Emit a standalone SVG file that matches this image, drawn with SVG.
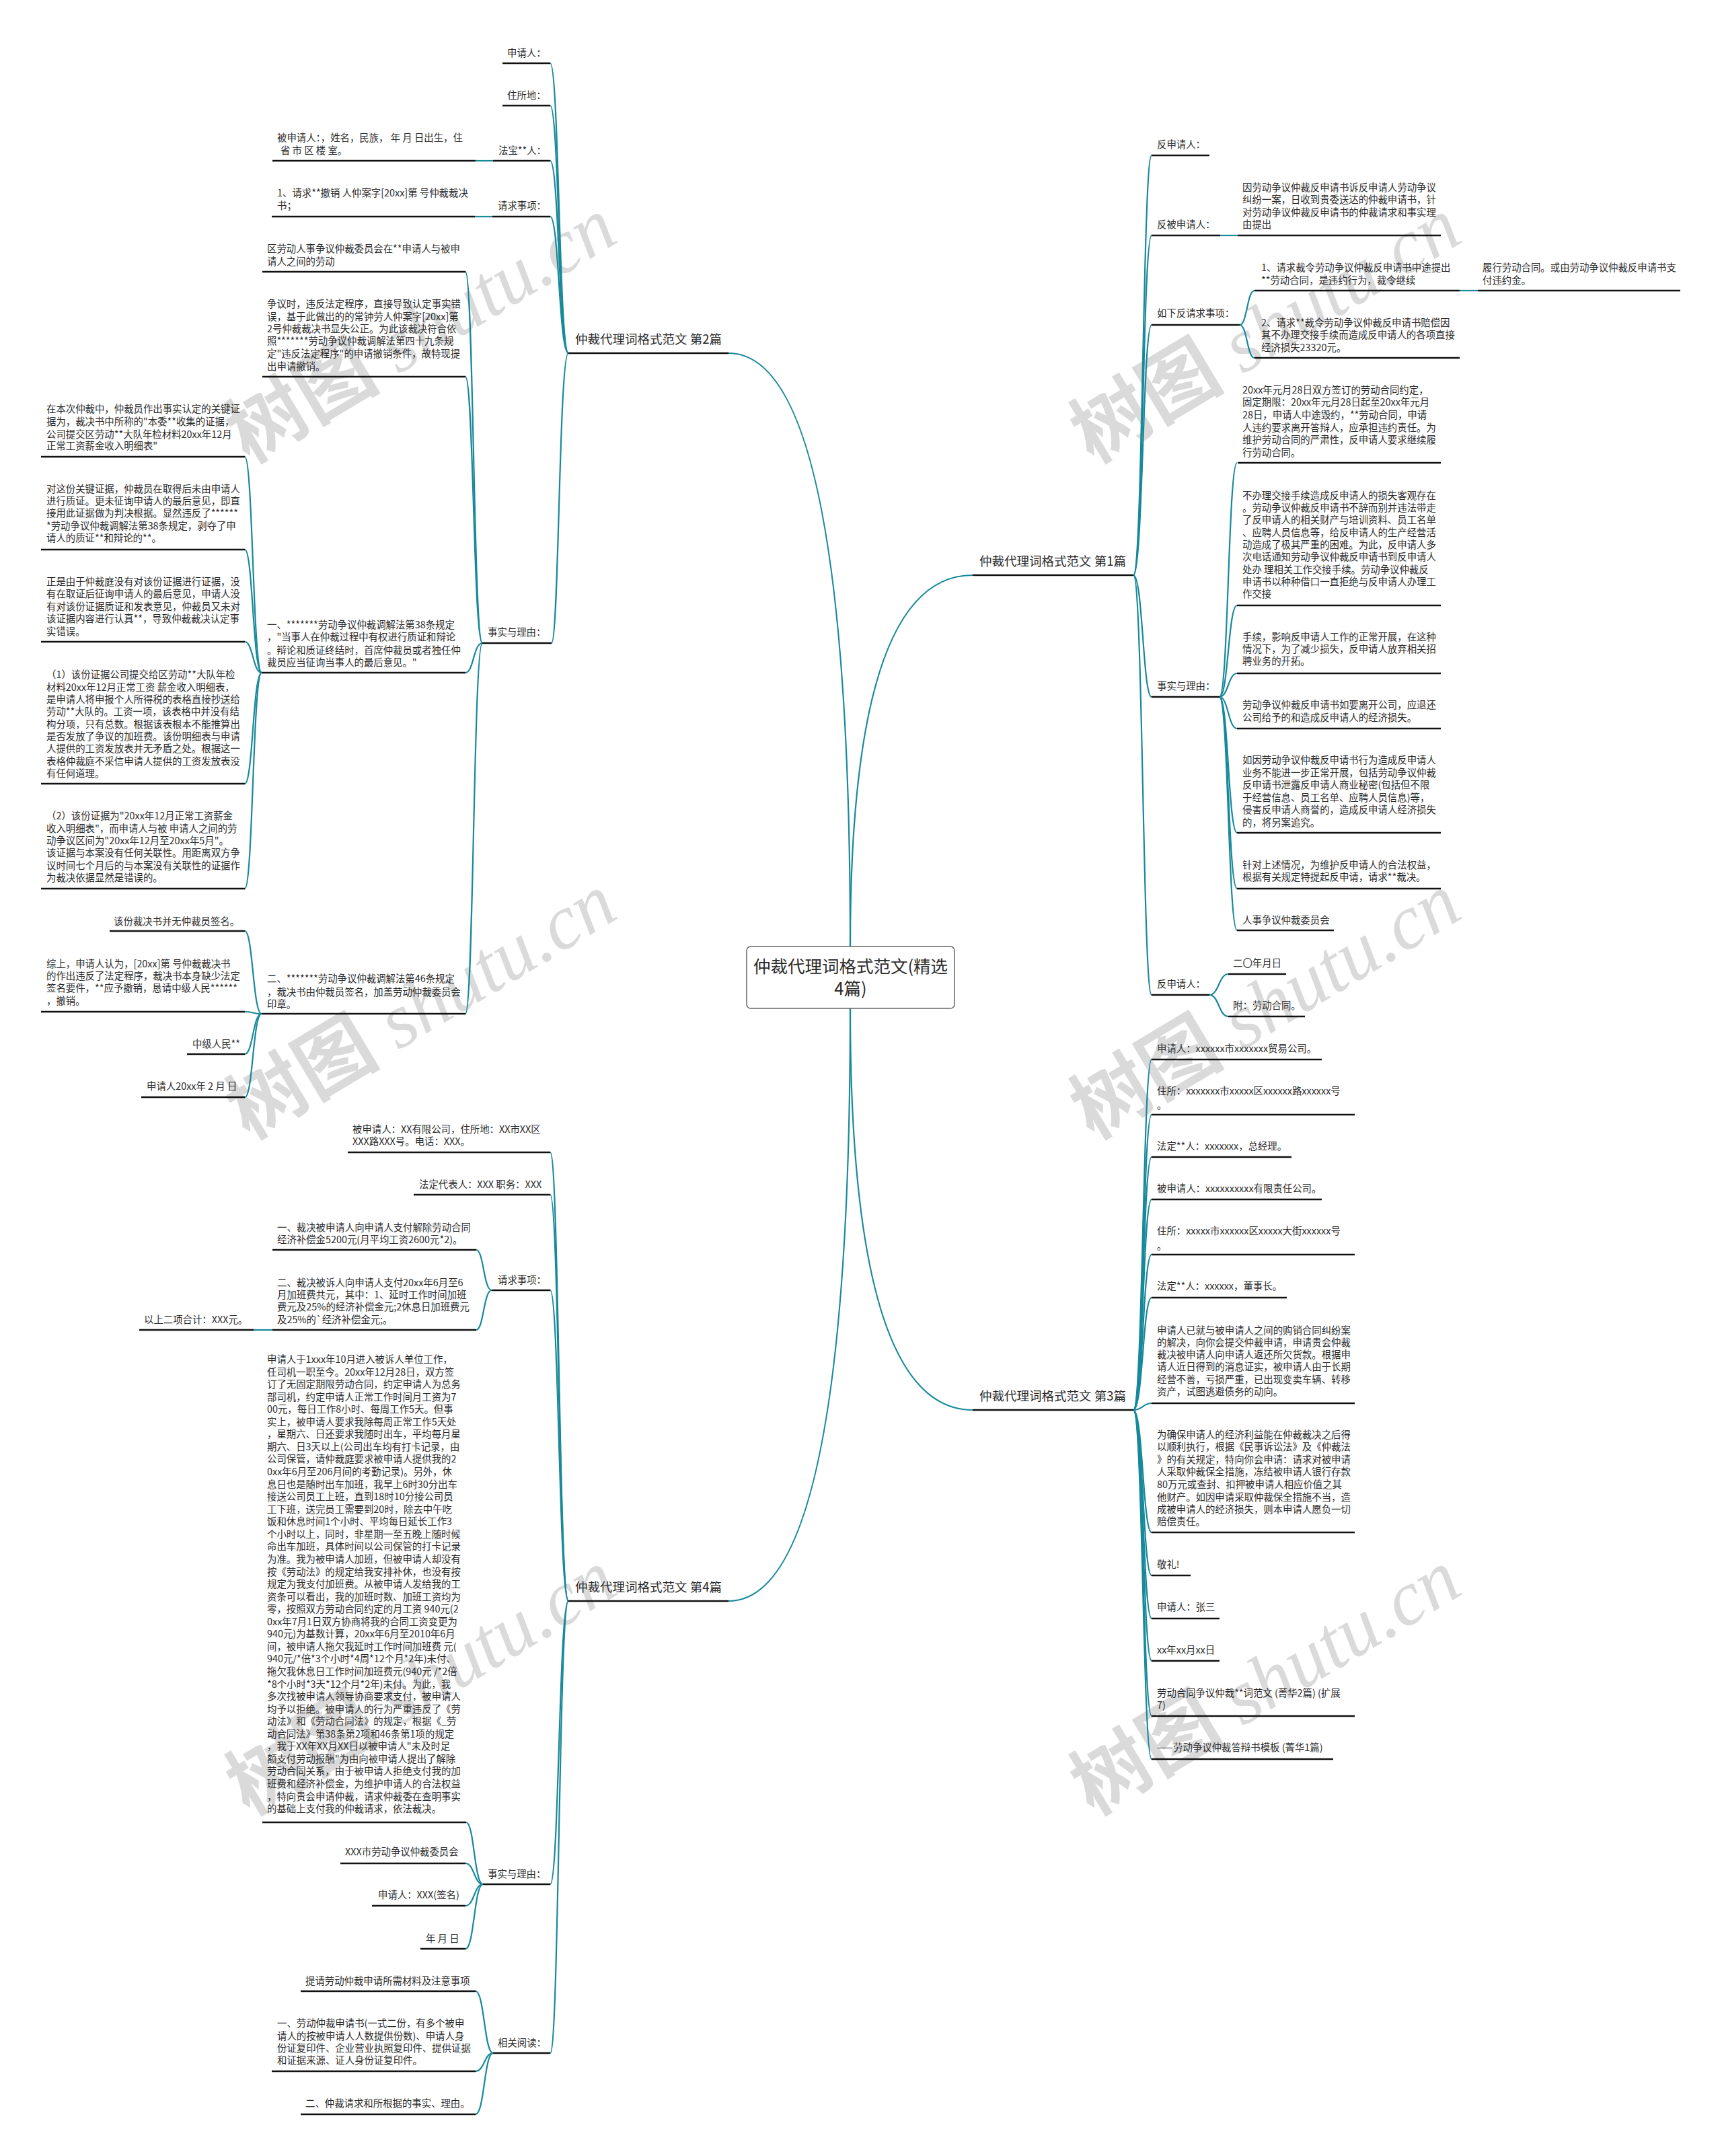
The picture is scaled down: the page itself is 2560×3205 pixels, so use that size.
<svg xmlns="http://www.w3.org/2000/svg" width="2560" height="3205" viewBox="0 0 2560 3205">
<style>
.t{font-family:"Noto Sans CJK SC","Liberation Sans",sans-serif;font-size:14.4px;fill:#2b2b2b}
.bl{font-family:"Noto Sans CJK SC","Liberation Sans",sans-serif;font-size:18.5px;fill:#2b2b2b}
.ct{font-family:"Noto Sans CJK SC","Liberation Sans",sans-serif;font-size:25.5px;fill:#2b2b2b}
.ul{stroke:#111;stroke-width:2.6}
.cn{fill:none;stroke:#18899b;stroke-width:2.2}
.wm{fill:#dadada;font-size:115px}
.wc{font-family:"Noto Sans CJK SC",sans-serif;font-weight:bold}
.ws{font-family:"Liberation Serif",serif;font-style:italic}
</style>
<rect width="2560" height="3205" fill="#fff"/>
<g id="watermark" class="wm">
<text transform="translate(370,690) rotate(-31)"><tspan class="wc">树图</tspan><tspan class="ws"> shutu.cn</tspan></text>
<text transform="translate(370,1695) rotate(-31)"><tspan class="wc">树图</tspan><tspan class="ws"> shutu.cn</tspan></text>
<text transform="translate(370,2700) rotate(-31)"><tspan class="wc">树图</tspan><tspan class="ws"> shutu.cn</tspan></text>
<text transform="translate(1625,690) rotate(-31)"><tspan class="wc">树图</tspan><tspan class="ws"> shutu.cn</tspan></text>
<text transform="translate(1625,1695) rotate(-31)"><tspan class="wc">树图</tspan><tspan class="ws"> shutu.cn</tspan></text>
<text transform="translate(1625,2700) rotate(-31)"><tspan class="wc">树图</tspan><tspan class="ws"> shutu.cn</tspan></text>
</g>
<g id="connectors" class="cn">
<path d="M1264,1407 Q1264,525 1083,525"/>
<path d="M1264,1407 Q1264,855 1446,855"/>
<path d="M1264,1499 Q1264,2380 1083,2380"/>
<path d="M1264,1499 Q1264,2096 1446,2096"/>
<path d="M845,525 C831,525 831,94 818,94"/>
<path d="M845,525 C831,525 831,157 818,157"/>
<path d="M845,525 C831,525 831,239 818,239"/>
<path d="M845,525 C831,525 831,322 818,322"/>
<path d="M845,525 C831,525 831,956 820,956"/>
<path d="M733,239 L707,239"/>
<path d="M732,322 L706,322"/>
<path d="M717,956 C704,956 704,404 692,404"/>
<path d="M717,956 C704,956 704,560 692,560"/>
<path d="M717,956 C704,956 704,1000 692,1000"/>
<path d="M717,956 C704,956 704,1507 692,1507"/>
<path d="M389,1000 C376,1000 376,679 364,679"/>
<path d="M389,1000 C376,1000 376,817 364,817"/>
<path d="M389,1000 C376,1000 376,954 364,954"/>
<path d="M389,1000 C376,1000 376,1165 364,1165"/>
<path d="M389,1000 C376,1000 376,1321 364,1321"/>
<path d="M389,1507 C376,1507 376,1384 364,1384"/>
<path d="M389,1507 C376,1507 376,1504 364,1504"/>
<path d="M389,1507 C376,1507 376,1567 364,1567"/>
<path d="M389,1507 C376,1507 376,1631 364,1631"/>
<path d="M845,2380 C831,2380 831,1713 818,1713"/>
<path d="M845,2380 C831,2380 831,1776 818,1776"/>
<path d="M845,2380 C831,2380 831,1918 818,1918"/>
<path d="M845,2380 C831,2380 831,2801 818,2801"/>
<path d="M845,2380 C831,2380 831,3052 818,3052"/>
<path d="M731,1918 C719,1918 719,1858 708,1858"/>
<path d="M731,1918 C719,1918 719,1977 708,1977"/>
<path d="M405,1977 L377,1977"/>
<path d="M718,2801 C705,2801 705,2709 693,2709"/>
<path d="M718,2801 C705,2801 705,2770 692,2770"/>
<path d="M718,2801 C705,2801 705,2833 692,2833"/>
<path d="M718,2801 C705,2801 705,2897 692,2897"/>
<path d="M733,3052 C720,3052 720,2960 707,2960"/>
<path d="M733,3052 C720,3052 720,3079 707,3079"/>
<path d="M733,3052 C720,3052 720,3143 707,3143"/>
<path d="M1685,855 C1699,855 1699,231 1712,231"/>
<path d="M1685,855 C1699,855 1699,350 1712,350"/>
<path d="M1685,855 C1699,855 1699,483 1712,483"/>
<path d="M1685,855 C1699,855 1699,1036 1712,1036"/>
<path d="M1685,855 C1699,855 1699,1479 1712,1479"/>
<path d="M1814,350 L1840,350"/>
<path d="M1843,483 C1854,483 1854,432 1865,432"/>
<path d="M1843,483 C1854,483 1854,532 1865,532"/>
<path d="M2170,432 L2197,432"/>
<path d="M1813,1036 C1826,1036 1826,688 1839,688"/>
<path d="M1813,1036 C1826,1036 1826,900 1839,900"/>
<path d="M1813,1036 C1826,1036 1826,1001 1839,1001"/>
<path d="M1813,1036 C1826,1036 1826,1083 1839,1083"/>
<path d="M1813,1036 C1826,1036 1826,1238 1839,1238"/>
<path d="M1813,1036 C1826,1036 1826,1321 1839,1321"/>
<path d="M1813,1036 C1826,1036 1826,1383 1839,1383"/>
<path d="M1798,1479 C1812,1479 1812,1448 1826,1448"/>
<path d="M1798,1479 C1812,1479 1812,1511 1826,1511"/>
<path d="M1685,2096 C1699,2096 1699,1575 1712,1575"/>
<path d="M1685,2096 C1699,2096 1699,1657 1712,1657"/>
<path d="M1685,2096 C1699,2096 1699,1720 1712,1720"/>
<path d="M1685,2096 C1699,2096 1699,1783 1712,1783"/>
<path d="M1685,2096 C1699,2096 1699,1865 1712,1865"/>
<path d="M1685,2096 C1699,2096 1699,1929 1712,1929"/>
<path d="M1685,2096 C1699,2096 1699,2086 1712,2086"/>
<path d="M1685,2096 C1699,2096 1699,2278 1712,2278"/>
<path d="M1685,2096 C1699,2096 1699,2342 1712,2342"/>
<path d="M1685,2096 C1699,2096 1699,2406 1712,2406"/>
<path d="M1685,2096 C1699,2096 1699,2469 1712,2469"/>
<path d="M1685,2096 C1699,2096 1699,2551 1712,2551"/>
<path d="M1685,2096 C1699,2096 1699,2615 1712,2615"/>
</g>
<g id="center"><rect x="1110" y="1407" width="309" height="92" rx="6" fill="#fff" stroke="#666" stroke-width="1.5"/><text class="ct" x="1264.5" y="1446" text-anchor="middle">仲裁代理词格式范文(精选</text><text class="ct" x="1264.5" y="1479" text-anchor="middle">4篇)</text></g>

<g id="b2"><text class="bl" x="855" y="511">仲裁代理词格式范文 第2篇</text><line class="ul" x1="845" y1="525" x2="1083" y2="525"/></g>
<g id="b2c1"><text class="t" x="754" y="84">申请人：</text><line class="ul" x1="747" y1="94" x2="818" y2="94"/></g>
<g id="b2c2"><text class="t" x="754" y="147">住所地：</text><line class="ul" x1="747" y1="157" x2="818" y2="157"/></g>
<g id="b2c3"><text class="t" x="741" y="229">法宝**人：</text><line class="ul" x1="733" y1="239" x2="818" y2="239"/></g>
<g id="b2c3a"><text class="t"><tspan x="412" y="210">被申请人：，姓名，民族， 年 月 日出生，住</tspan><tspan x="417" y="229">省 市 区 楼 室。</tspan></text><line class="ul" x1="405" y1="239" x2="707" y2="239"/></g>
<g id="b2c4"><text class="t" x="740" y="311">请求事项：</text><line class="ul" x1="732" y1="322" x2="818" y2="322"/></g>
<g id="b2c4a"><text class="t"><tspan x="412" y="292">1、请求**撤销 人仲案字[20xx]第 号仲裁裁决</tspan><tspan x="412" y="311">书；</tspan></text><line class="ul" x1="404" y1="322" x2="706" y2="322"/></g>
<g id="b2c5"><text class="t" x="725" y="945">事实与理由：</text><line class="ul" x1="717" y1="956" x2="820" y2="956"/></g>
<g id="b2c5a"><text class="t"><tspan x="397" y="375">区劳动人事争议仲裁委员会在**申请人与被申</tspan><tspan x="397" y="394">请人之间的劳动</tspan></text><line class="ul" x1="390" y1="404" x2="692" y2="404"/></g>
<g id="b2c5b"><text class="t"><tspan x="397" y="457">争议时，违反法定程序，直接导致认定事实错</tspan><tspan x="397" y="476">误，基于此做出的的常钟劳人仲案字[20xx]第</tspan><tspan x="397" y="494">2号仲裁裁决书显失公正。为此该裁决符合依</tspan><tspan x="397" y="512">照*******劳动争议仲裁调解法第四十九条规</tspan><tspan x="397" y="531">定"违反法定程序"的申请撤销条件，故特现提</tspan><tspan x="397" y="550">出申请撤销。</tspan></text><line class="ul" x1="390" y1="560" x2="692" y2="560"/></g>
<g id="b2c5c"><text class="t"><tspan x="397" y="934">一、*******劳动争议仲裁调解法第38条规定</tspan><tspan x="397" y="952">，"当事人在仲裁过程中有权进行质证和辩论</tspan><tspan x="397" y="972">。辩论和质证终结时，首席仲裁员或者独任仲</tspan><tspan x="397" y="990">裁员应当征询当事人的最后意见。"</tspan></text><line class="ul" x1="389" y1="1000" x2="692" y2="1000"/></g>
<g id="b2c5c1"><text class="t"><tspan x="69" y="613">在本次仲裁中，仲裁员作出事实认定的关键证</tspan><tspan x="69" y="632">据为，裁决书中所称的"本委**收集的证据，</tspan><tspan x="69" y="651">公司提交区劳动**大队年检材料20xx年12月</tspan><tspan x="69" y="668">正常工资薪金收入明细表"</tspan></text><line class="ul" x1="61" y1="679" x2="364" y2="679"/></g>
<g id="b2c5c2"><text class="t"><tspan x="69" y="732">对这份关键证据，仲裁员在取得后未由申请人</tspan><tspan x="69" y="750">进行质证。更未征询申请人的最后意见，即直</tspan><tspan x="69" y="768">接用此证据做为判决根据。显然违反了******</tspan><tspan x="69" y="787">*劳动争议仲裁调解法第38条规定，剥夺了申</tspan><tspan x="69" y="805">请人的质证**和辩论的**。</tspan></text><line class="ul" x1="61" y1="817" x2="364" y2="817"/></g>
<g id="b2c5c3"><text class="t"><tspan x="69" y="870">正是由于仲裁庭没有对该份证据进行证据，没</tspan><tspan x="69" y="888">有在取证后征询申请人的最后意见，申请人没</tspan><tspan x="69" y="907">有对该份证据质证和发表意见，仲裁员又未对</tspan><tspan x="69" y="925">该证据内容进行认真**，导致仲裁裁决认定事</tspan><tspan x="69" y="944">实错误。</tspan></text><line class="ul" x1="61" y1="954" x2="364" y2="954"/></g>
<g id="b2c5c4"><text class="t"><tspan x="69" y="1008">（1）该份证据公司提交给区劳动**大队年检</tspan><tspan x="69" y="1027">材料20xx年12月正常工资 薪金收入明细表，</tspan><tspan x="69" y="1045">是申请人将申报个人所得税的表格直接抄送给</tspan><tspan x="69" y="1063">劳动**大队的。工资一项，该表格中并没有结</tspan><tspan x="69" y="1082">构分项，只有总数。根据该表根本不能推算出</tspan><tspan x="69" y="1100">是否发放了争议的加班费。该份明细表与申请</tspan><tspan x="69" y="1118">人提供的工资发放表并无矛盾之处。根据这一</tspan><tspan x="69" y="1137">表格仲裁庭不采信申请人提供的工资发放表没</tspan><tspan x="69" y="1155">有任何道理。</tspan></text><line class="ul" x1="61" y1="1165" x2="364" y2="1165"/></g>
<g id="b2c5c5"><text class="t"><tspan x="69" y="1218">（2）该份证据为"20xx年12月正常工资薪金</tspan><tspan x="69" y="1237">收入明细表"，而申请人与被 申请人之间的劳</tspan><tspan x="69" y="1255">动争议区间为"20xx年12月至20xx年5月"。</tspan><tspan x="69" y="1273">该证据与本案没有任何关联性。用距离双方争</tspan><tspan x="69" y="1292">议时间七个月后的与本案没有关联性的证据作</tspan><tspan x="69" y="1310">为裁决依据显然是错误的。</tspan></text><line class="ul" x1="61" y1="1321" x2="364" y2="1321"/></g>
<g id="b2c5d"><text class="t"><tspan x="397" y="1460">二、*******劳动争议仲裁调解法第46条规定</tspan><tspan x="397" y="1480">，裁决书由仲裁员签名，加盖劳动仲裁委员会</tspan><tspan x="397" y="1498">印章。</tspan></text><line class="ul" x1="389" y1="1507" x2="692" y2="1507"/></g>
<g id="b2c5d1"><text class="t" x="169" y="1375">该份裁决书并无仲裁员签名。</text><line class="ul" x1="163" y1="1384" x2="364" y2="1384"/></g>
<g id="b2c5d2"><text class="t"><tspan x="69" y="1438">综上，申请人认为，[20xx]第 号仲裁裁决书</tspan><tspan x="69" y="1456">的作出违反了法定程序，裁决书本身缺少法定</tspan><tspan x="69" y="1474">签名要件，**应予撤销，恳请中级人民******</tspan><tspan x="69" y="1493">，撤销。</tspan></text><line class="ul" x1="61" y1="1504" x2="364" y2="1504"/></g>
<g id="b2c5d3"><text class="t" x="286" y="1557">中级人民**</text><line class="ul" x1="278" y1="1567" x2="364" y2="1567"/></g>
<g id="b2c5d4"><text class="t" x="218" y="1620">申请人20xx年 2 月 日</text><line class="ul" x1="210" y1="1631" x2="364" y2="1631"/></g>

<g id="b4"><text class="bl" x="855" y="2366">仲裁代理词格式范文 第4篇</text><line class="ul" x1="845" y1="2380" x2="1083" y2="2380"/></g>
<g id="b4c1"><text class="t"><tspan x="524" y="1684">被申请人：XX有限公司，住所地：XX市XX区</tspan><tspan x="524" y="1702">XXX路XXX号。电话：XXX。</tspan></text><line class="ul" x1="517" y1="1713" x2="818" y2="1713"/></g>
<g id="b4c2"><text class="t" x="623" y="1766">法定代表人：XXX 职务：XXX</text><line class="ul" x1="615" y1="1776" x2="818" y2="1776"/></g>
<g id="b4c3"><text class="t" x="740" y="1908">请求事项：</text><line class="ul" x1="731" y1="1918" x2="818" y2="1918"/></g>
<g id="b4c3a"><text class="t"><tspan x="412" y="1830">一、裁决被申请人向申请人支付解除劳动合同</tspan><tspan x="412" y="1848">经济补偿金5200元(月平均工资2600元*2)。</tspan></text><line class="ul" x1="405" y1="1858" x2="708" y2="1858"/></g>
<g id="b4c3b"><text class="t"><tspan x="412" y="1912">二、裁决被诉人向申请人支付20xx年6月至6</tspan><tspan x="412" y="1930">月加班费共元，其中：1、延时工作时间加班</tspan><tspan x="412" y="1948">费元及25%的经济补偿金元;2休息日加班费元</tspan><tspan x="412" y="1967">及25%的`经济补偿金元;。</tspan></text><line class="ul" x1="405" y1="1977" x2="708" y2="1977"/></g>
<g id="b4c3b1"><text class="t" x="214" y="1967">以上二项合计：XXX元。</text><line class="ul" x1="207" y1="1977" x2="377" y2="1977"/></g>
<g id="b4c4"><text class="t" x="725" y="2791">事实与理由：</text><line class="ul" x1="718" y1="2801" x2="818" y2="2801"/></g>
<g id="b4c4a"><text class="t"><tspan x="397" y="2026">申请人于1xxx年10月进入被诉人单位工作，</tspan><tspan x="397" dy="18.56">任司机一职至今。20xx年12月28日，双方签</tspan><tspan x="397" dy="18.56">订了无固定期限劳动合同，约定申请人为总务</tspan><tspan x="397" dy="18.56">部司机，约定申请人正常工作时间月工资为7</tspan><tspan x="397" dy="18.56">00元，每日工作8小时、每周工作5天。但事</tspan><tspan x="397" dy="18.56">实上，被申请人要求我除每周正常工作5天处</tspan><tspan x="397" dy="18.56">，星期六、日还要求我随时出车，平均每月星</tspan><tspan x="397" dy="18.56">期六、日3天以上(公司出车均有打卡记录，由</tspan><tspan x="397" dy="18.56">公司保管，请仲裁庭要求被申请人提供我的2</tspan><tspan x="397" dy="18.56">0xx年6月至206月间的考勤记录)。另外，休</tspan><tspan x="397" dy="18.56">息日也是随时出车加班，我早上6时30分出车</tspan><tspan x="397" dy="18.56">接送公司员工上班，直到18时10分接公司员</tspan><tspan x="397" dy="18.56">工下班，送完员工需要到20时，除去中午吃</tspan><tspan x="397" dy="18.56">饭和休息时间1个小时、平均每日延长工作3</tspan><tspan x="397" dy="18.56">个小时以上，同时，非星期一至五晚上随时候</tspan><tspan x="397" dy="18.56">命出车加班，具体时间以公司保管的打卡记录</tspan><tspan x="397" dy="18.56">为准。我为被申请人加班，但被申请人却没有</tspan><tspan x="397" dy="18.56">按《劳动法》的规定给我安排补休，也没有按</tspan><tspan x="397" dy="18.56">规定为我支付加班费。从被申请人发给我的工</tspan><tspan x="397" dy="18.56">资条可以看出，我的加班时数、加班工资均为</tspan><tspan x="397" dy="18.56">零，按照双方劳动合同约定的月工资 940元(2</tspan><tspan x="397" dy="18.56">0xx年7月1日双方协商将我的合同工资变更为</tspan><tspan x="397" dy="18.56">940元)为基数计算，20xx年6月至2010年6月</tspan><tspan x="397" dy="18.56">间，被申请人拖欠我延时工作时间加班费 元(</tspan><tspan x="397" dy="18.56">940元/*倍*3个小时*4周*12个月*2年)未付、</tspan><tspan x="397" dy="18.56">拖欠我休息日工作时间加班费元(940元 /*2倍</tspan><tspan x="397" dy="18.56">*8个小时*3天*12个月*2年)未付。为此，我</tspan><tspan x="397" dy="18.56">多次找被申请人领导协商要求支付，被申请人</tspan><tspan x="397" dy="18.56">均予以拒绝。被申请人的行为严重违反了《劳</tspan><tspan x="397" dy="18.56">动法》和《劳动合同法》的规定，根据《_劳</tspan><tspan x="397" dy="18.56">动合同法》第38条第2项和46条第1项的规定</tspan><tspan x="397" dy="18.56">，我于XX年XX月XX日以被申请人"未及时足</tspan><tspan x="397" dy="18.56">额支付劳动报酬"为由向被申请人提出了解除</tspan><tspan x="397" dy="18.56">劳动合同关系，由于被申请人拒绝支付我的加</tspan><tspan x="397" dy="18.56">班费和经济补偿金，为维护申请人的合法权益</tspan><tspan x="397" dy="18.56">，特向贵会申请仲裁，请求仲裁委在查明事实</tspan><tspan x="397" dy="18.56">的基础上支付我的仲裁请求，依法裁决。</tspan></text><line class="ul" x1="390" y1="2709" x2="693" y2="2709"/></g>
<g id="b4c4b"><text class="t" x="513" y="2758">XXX市劳动争议仲裁委员会</text><line class="ul" x1="506" y1="2770" x2="692" y2="2770"/></g>
<g id="b4c4c"><text class="t" x="562" y="2822">申请人：XXX(签名)</text><line class="ul" x1="553" y1="2833" x2="692" y2="2833"/></g>
<g id="b4c4d"><text class="t" x="633" y="2887">年 月 日</text><line class="ul" x1="625" y1="2897" x2="692" y2="2897"/></g>
<g id="b4c5"><text class="t" x="740" y="3042">相关阅读：</text><line class="ul" x1="733" y1="3052" x2="818" y2="3052"/></g>
<g id="b4c5a"><text class="t" x="454" y="2950">提请劳动仲裁申请所需材料及注意事项</text><line class="ul" x1="447" y1="2960" x2="707" y2="2960"/></g>
<g id="b4c5b"><text class="t"><tspan x="412" y="3013">一、劳动仲裁申请书(一式二份，有多个被申</tspan><tspan x="412" y="3032">请人的按被申请人人数提供份数)、申请人身</tspan><tspan x="412" y="3050">份证复印件、企业营业执照复印件、提供证据</tspan><tspan x="412" y="3068">和证据来源、证人身份证复印件。</tspan></text><line class="ul" x1="404" y1="3079" x2="707" y2="3079"/></g>
<g id="b4c5c"><text class="t" x="454" y="3132">二、仲裁请求和所根据的事实、理由。</text><line class="ul" x1="447" y1="3143" x2="707" y2="3143"/></g>

<g id="b1"><text class="bl" x="1456" y="841">仲裁代理词格式范文 第1篇</text><line class="ul" x1="1446" y1="855" x2="1685" y2="855"/></g>
<g id="b1c1"><text class="t" x="1720" y="220">反申请人：</text><line class="ul" x1="1712" y1="231" x2="1798" y2="231"/></g>
<g id="b1c2"><text class="t" x="1720" y="339">反被申请人：</text><line class="ul" x1="1712" y1="350" x2="1814" y2="350"/></g>
<g id="b1c2a"><text class="t"><tspan x="1847" y="284">因劳动争议仲裁反申请书诉反申请人劳动争议</tspan><tspan x="1847" y="302">纠纷一案，日收到贵委送达的仲裁申请书，针</tspan><tspan x="1847" y="321">对劳动争议仲裁反申请书的仲裁请求和事实理</tspan><tspan x="1847" y="339">由提出</tspan></text><line class="ul" x1="1840" y1="350" x2="2142" y2="350"/></g>
<g id="b1c3"><text class="t" x="1720" y="471">如下反请求事项：</text><line class="ul" x1="1712" y1="483" x2="1843" y2="483"/></g>
<g id="b1c3a"><text class="t"><tspan x="1875" y="403">1、请求裁令劳动争议仲裁反申请书中途提出</tspan><tspan x="1875" y="422">**劳动合同，是违约行为，裁令继续</tspan></text><line class="ul" x1="1865" y1="432" x2="2170" y2="432"/></g>
<g id="b1c3a1"><text class="t"><tspan x="2204" y="403">履行劳动合同。或由劳动争议仲裁反申请书支</tspan><tspan x="2204" y="422">付违约金。</tspan></text><line class="ul" x1="2197" y1="432" x2="2498" y2="432"/></g>
<g id="b1c3b"><text class="t"><tspan x="1875" y="485">2、请求**裁令劳动争议仲裁反申请书赔偿因</tspan><tspan x="1875" y="503">其不办理交接手续而造成反申请人的各项直接</tspan><tspan x="1875" y="522">经济损失23320元。</tspan></text><line class="ul" x1="1865" y1="532" x2="2170" y2="532"/></g>
<g id="b1c4"><text class="t" x="1720" y="1025">事实与理由：</text><line class="ul" x1="1712" y1="1036" x2="1813" y2="1036"/></g>
<g id="b1c4a"><text class="t"><tspan x="1847" y="585">20xx年元月28日双方签订的劳动合同约定，</tspan><tspan x="1847" y="603">固定期限：20xx年元月28日起至20xx年元月</tspan><tspan x="1847" y="622">28日，申请人中途毁约，**劳动合同，申请</tspan><tspan x="1847" y="641">人违约要求离开答辩人，应承担违约责任。为</tspan><tspan x="1847" y="659">维护劳动合同的严肃性，反申请人要求继续履</tspan><tspan x="1847" y="678">行劳动合同。</tspan></text><line class="ul" x1="1840" y1="688" x2="2142" y2="688"/></g>
<g id="b1c4b"><text class="t"><tspan x="1847" y="742">不办理交接手续造成反申请人的损失客观存在</tspan><tspan x="1847" y="760">。劳动争议仲裁反申请书不辞而别并违法带走</tspan><tspan x="1847" y="778">了反申请人的相关财产与培训资料、员工名单</tspan><tspan x="1847" y="797">、应聘人员信息等，给反申请人的生产经营活</tspan><tspan x="1847" y="815">动造成了极其严重的困难。为此，反申请人多</tspan><tspan x="1847" y="833">次电话通知劳动争议仲裁反申请书到反申请人</tspan><tspan x="1847" y="852">处办 理相关工作交接手续。劳动争议仲裁反</tspan><tspan x="1847" y="870">申请书以种种借口一直拒绝与反申请人办理工</tspan><tspan x="1847" y="888">作交接</tspan></text><line class="ul" x1="1839" y1="900" x2="2142" y2="900"/></g>
<g id="b1c4c"><text class="t"><tspan x="1847" y="952">手续，影响反申请人工作的正常开展，在这种</tspan><tspan x="1847" y="970">情况下，为了减少损失，反申请人放弃相关招</tspan><tspan x="1847" y="988">聘业务的开拓。</tspan></text><line class="ul" x1="1839" y1="1001" x2="2142" y2="1001"/></g>
<g id="b1c4d"><text class="t"><tspan x="1847" y="1053">劳动争议仲裁反申请书如要离开公司，应退还</tspan><tspan x="1847" y="1072">公司给予的和造成反申请人的经济损失。</tspan></text><line class="ul" x1="1839" y1="1083" x2="2142" y2="1083"/></g>
<g id="b1c4e"><text class="t"><tspan x="1847" y="1135">如因劳动争议仲裁反申请书行为造成反申请人</tspan><tspan x="1847" y="1153.5">业务不能进一步正常开展，包括劳动争议仲裁</tspan><tspan x="1847" y="1172">反申请书泄露反申请人商业秘密(包括但不限</tspan><tspan x="1847" y="1190.5">于经营信息、员工名单、应聘人员信息)等，</tspan><tspan x="1847" y="1209">侵害反申请人商誉的，造成反申请人经济损失</tspan><tspan x="1847" y="1227.5">的，将另案追究。</tspan></text><line class="ul" x1="1839" y1="1238" x2="2142" y2="1238"/></g>
<g id="b1c4f"><text class="t"><tspan x="1847" y="1291">针对上述情况，为维护反申请人的合法权益，</tspan><tspan x="1847" y="1309">根据有关规定特提起反申请，请求**裁决。</tspan></text><line class="ul" x1="1839" y1="1321" x2="2142" y2="1321"/></g>
<g id="b1c4g"><text class="t" x="1847" y="1373">人事争议仲裁委员会</text><line class="ul" x1="1839" y1="1383" x2="1983" y2="1383"/></g>
<g id="b1c5"><text class="t" x="1720" y="1468">反申请人：</text><line class="ul" x1="1712" y1="1479" x2="1798" y2="1479"/></g>
<g id="b1c5a"><text class="t" x="1833" y="1437">二〇年月日</text><line class="ul" x1="1826" y1="1448" x2="1912" y2="1448"/></g>
<g id="b1c5b"><text class="t" x="1833" y="1500">附：劳动合同。</text><line class="ul" x1="1826" y1="1511" x2="1940" y2="1511"/></g>

<g id="b3"><text class="bl" x="1456" y="2082">仲裁代理词格式范文 第3篇</text><line class="ul" x1="1446" y1="2096" x2="1685" y2="2096"/></g>
<g id="b3c1"><text class="t" x="1720" y="1564">申请人：xxxxxx市xxxxxxx贸易公司。</text><line class="ul" x1="1712" y1="1575" x2="1965" y2="1575"/></g>
<g id="b3c2"><text class="t"><tspan x="1720" y="1627">住所：xxxxxxx市xxxxx区xxxxxx路xxxxxx号</tspan><tspan x="1720" y="1648">。</tspan></text><line class="ul" x1="1712" y1="1657" x2="2014" y2="1657"/></g>
<g id="b3c3"><text class="t" x="1720" y="1709">法定**人：xxxxxxx，总经理。</text><line class="ul" x1="1712" y1="1720" x2="1920" y2="1720"/></g>
<g id="b3c4"><text class="t" x="1720" y="1772">被申请人：xxxxxxxxxx有限责任公司。</text><line class="ul" x1="1712" y1="1783" x2="1965" y2="1783"/></g>
<g id="b3c5"><text class="t"><tspan x="1720" y="1835">住所：xxxxx市xxxxxx区xxxxx大街xxxxxx号</tspan><tspan x="1720" y="1857">。</tspan></text><line class="ul" x1="1712" y1="1865" x2="2014" y2="1865"/></g>
<g id="b3c6"><text class="t" x="1720" y="1917">法定**人：xxxxxx，董事长。</text><line class="ul" x1="1712" y1="1929" x2="1913" y2="1929"/></g>
<g id="b3c7"><text class="t"><tspan x="1720" y="1983">申请人已就与被申请人之间的购销合同纠纷案</tspan><tspan x="1720" y="2001">的解决，向你会提交仲裁申请，申请贵会仲裁</tspan><tspan x="1720" y="2019">裁决被申请人向申请人返还所欠货款。根据申</tspan><tspan x="1720" y="2037">请人近日得到的消息证实，被申请人由于长期</tspan><tspan x="1720" y="2056">经营不善，亏损严重，已出现变卖车辆、转移</tspan><tspan x="1720" y="2074">资产，试图逃避债务的动向。</tspan></text><line class="ul" x1="1712" y1="2086" x2="2014" y2="2086"/></g>
<g id="b3c8"><text class="t"><tspan x="1720" y="2138">为确保申请人的经济利益能在仲裁裁决之后得</tspan><tspan x="1720" y="2156">以顺利执行，根据《民事诉讼法》及《仲裁法</tspan><tspan x="1720" y="2175">》的有关规定，特向你会申请：请求对被申请</tspan><tspan x="1720" y="2193">人采取仲裁保全措施，冻结被申请人银行存款</tspan><tspan x="1720" y="2212">80万元或查封、扣押被申请人相应价值之其</tspan><tspan x="1720" y="2231">他财产。如因申请采取仲裁保全措施不当，造</tspan><tspan x="1720" y="2249">成被申请人的经济损失，则本申请人愿负一切</tspan><tspan x="1720" y="2267">赔偿责任。</tspan></text><line class="ul" x1="1712" y1="2278" x2="2014" y2="2278"/></g>
<g id="b3c9"><text class="t" x="1720" y="2331">敬礼!</text><line class="ul" x1="1712" y1="2342" x2="1770" y2="2342"/></g>
<g id="b3c10"><text class="t" x="1720" y="2394">申请人：张三</text><line class="ul" x1="1712" y1="2406" x2="1813" y2="2406"/></g>
<g id="b3c11"><text class="t" x="1720" y="2458">xx年xx月xx日</text><line class="ul" x1="1712" y1="2469" x2="1813" y2="2469"/></g>
<g id="b3c12"><text class="t"><tspan x="1720" y="2522">劳动合同争议仲裁**词范文 (菁华2篇) (扩展</tspan><tspan x="1720" y="2540">7)</tspan></text><line class="ul" x1="1712" y1="2551" x2="2014" y2="2551"/></g>
<g id="b3c13"><text class="t" x="1720" y="2603">——劳动争议仲裁答辩书模板 (菁华1篇)</text><line class="ul" x1="1712" y1="2615" x2="1982" y2="2615"/></g>
</svg>
